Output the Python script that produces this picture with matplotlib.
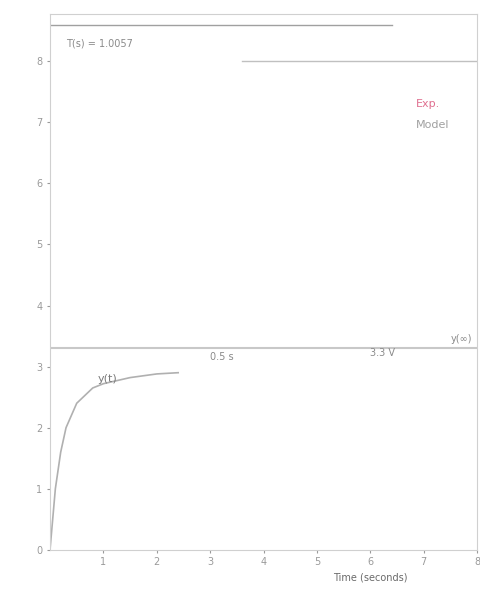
import matplotlib.pyplot as plt

# saturating response curve
t_vals = [0, 0.1, 0.2, 0.3, 0.5, 0.8, 1.0, 1.5, 2.0, 2.4]
y_vals = [0, 1.0, 1.6, 2.0, 2.4, 2.65, 2.72, 2.82, 2.88, 2.9]

# reference levels
steady_level = 3.3
upper_level = 8.6
upper2_level = 8.0

x_ticks = [1, 2, 3, 4, 5, 6, 7, 8]
y_ticks = [0, 1, 2, 3, 4, 5, 6, 7, 8]

grey = "#9a9a9a"
fig = plt.figure(figsize=(4.81, 5.95), dpi=100)
ax = fig.add_axes([0.104, 0.076, 0.888, 0.9])

ax.plot(t_vals, y_vals, color="#b0b0b0", lw=1.2, label="Model")
ax.axhline(steady_level, color="#c8c8c8", lw=1.5)
ax.plot([0, 6.4], [upper_level, upper_level], color="#a0a0a0", lw=1)
ax.plot([3.6, 8], [upper2_level, upper2_level], color="#c0c0c0", lw=1)

ax.text(0.3, 8.25, "T(s) = 1.0057", fontsize=7, color="#8a8a8a")
ax.text(0.9, 2.75, "y(t)", fontsize=8, color="#7a7a7a")
ax.text(3.0, 3.1, "0.5 s", fontsize=7, color="#8a8a8a")
ax.text(6.0, 3.18, "3.3 V", fontsize=7, color="#8a8a8a")
ax.text(7.5, 3.4, "y(∞)", fontsize=7, color="#8a8a8a")

ax.text(6.85, 7.25, "Exp.", fontsize=8, color="#e07090")
ax.text(6.85, 6.9, "Model", fontsize=8, color="#a0a0a0")

ax.set_xlim(0, 8)
ax.set_ylim(0, 8.77)
ax.set_xticks(x_ticks)
ax.set_yticks(y_ticks)
ax.tick_params(colors=grey, labelsize=7, length=2)
for s in ax.spines.values():
    s.set_color("#d0d0d0")
ax.set_xlabel("Time (seconds)", fontsize=7, color="#6a6a6a", x=0.75)

plt.savefig("out.png", dpi=100)
